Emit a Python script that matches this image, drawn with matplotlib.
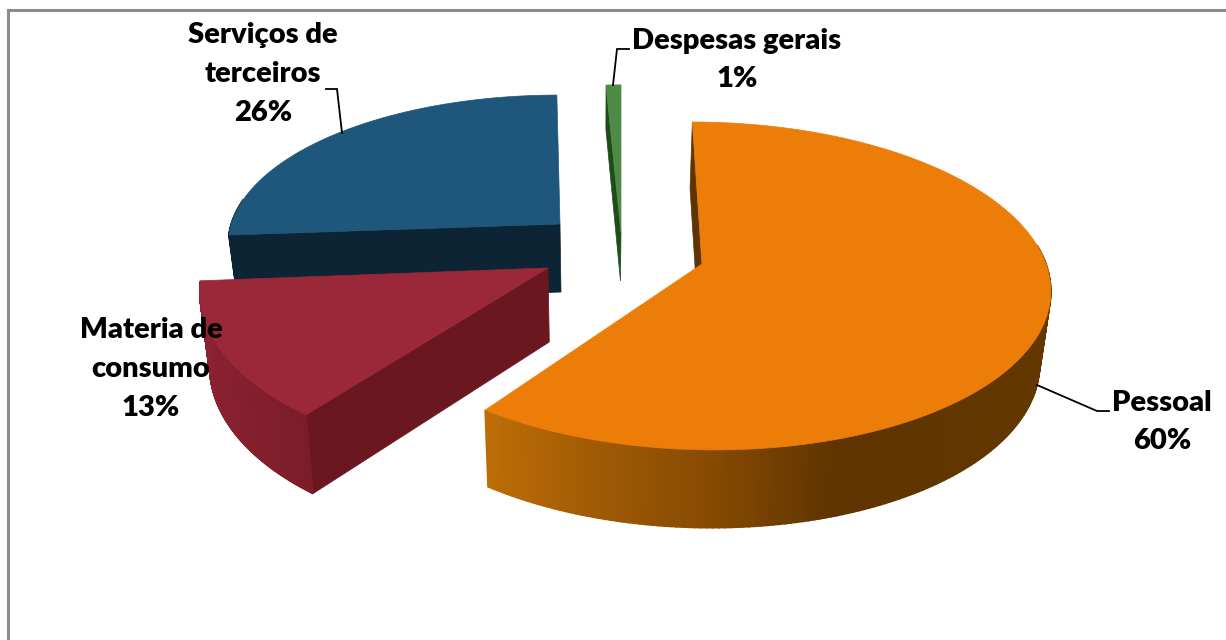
import numpy as np
import matplotlib
matplotlib.use("Agg")
import matplotlib.pyplot as plt
from matplotlib.colors import to_rgb
from matplotlib.patches import Polygon

labels = ["Pessoal", "Materia de\nconsumo", "Serviços de\nterceiros", "Despesas gerais"]
values = [60, 13, 26, 1]

# Per-slice projection styling (pixel geometry)
style = [
    dict(cx=702, cy=264, rx=344, ry=161, shear=.068, tilt=0, depth=72, top="#EC7D08", face="#5F3400",
         wall=[(484, "#BF6E07"), (600, "#A05A04"), (720, "#854A02"), (840, "#5F3400"), (1050, "#643700")]),
    dict(cx=548, cy=268, rx=342, ry=168, shear=-.11, tilt=.025, depth=74, top="#9B2838", face="#6A1720",
         wall=[(200, "#8A2230"), (312, "#7B1C29")]),
    dict(cx=560, cy=224, rx=326, ry=146, shear=-.116, tilt=.023, depth=68, top="#1E567C", face="#0C2433",
         wall=[(230, "#0C2433"), (560, "#0C2433")]),
    dict(cx=621, cy=233, rx=270, ry=168, shear=0, tilt=0, depth=48, top="#4F8A46", face="#1F4D1A",
         wall=[(600, "#1F4D1A"), (630, "#1F4D1A")]),
]
PERSP, CONV, VPX, DEPTHQ = .134, .025, 600, .08
text_xy = [(1162, 422), (151, 369), (263, 74), (737, 60)]
leaders = [[(1037, 385), (1097, 411), (1109, 411)], None,
           [(326, 89), (337, 89), (342, 133)], [(629, 49), (617, 49), (613, 85)]]


def project(s, theta):
    theta = np.asarray(theta, float)
    w = 1 + PERSP * np.cos(theta)
    u = s["rx"] * np.sin(theta) / w
    v = -s["ry"] * np.cos(theta) / w
    return s["cx"] + u + s["shear"] * v, s["cy"] + v + s["tilt"] * u


def drop(s, x, y, theta):
    d = s["depth"] * (1 - DEPTHQ * np.cos(theta))
    return x + CONV * (VPX - x), y + d


def ramp(stops, x):
    xs = [a for a, _ in stops]
    cols = np.array([to_rgb(c) for _, c in stops])
    return np.column_stack([np.interp(x, xs, cols[:, i]) for i in range(3)])


fig = plt.figure(figsize=(12.26, 6.40), dpi=100)
ax = fig.add_axes([0, 0, 1, 1])
ax.set_xlim(0, 1226)
ax.set_ylim(640, 0)
ax.axis("off")

# chart frame: left and top edges only reach the image border
ax.plot([8, 8, 1226], [640, 9.5, 9.5], color="#8C8C8C", lw=2.2, zorder=1, solid_joinstyle="miter")

fractions = np.array(values) / sum(values)
ends = np.cumsum(fractions) * 2 * np.pi
starts = ends - fractions * 2 * np.pi
order = [2, 3, 0, 1]  # painter's order

for z, i in enumerate(order):
    s = style[i]
    base = 10 + z * 3
    th = np.linspace(starts[i], ends[i], 240)
    x, y = project(s, th)
    # start radial face (visible for every slice here)
    ax_pts = [(x[0], y[0]), (s["cx"], s["cy"])]
    lx = [drop(s, a, b, t) for (a, b), t in zip(ax_pts, [th[0], np.pi / 2])]
    ax.add_patch(Polygon([ax_pts[0], ax_pts[1], lx[1], lx[0]], closed=True, fc=s["face"], ec=s["face"], lw=.5, zorder=base))
    # outer wall strips
    lowx, lowy = drop(s, x, y, th)
    cols = ramp(s["wall"], x)
    for k in range(len(th) - 1):
        if np.cos(th[k]) < .12:
            ax.add_patch(Polygon([(x[k], y[k]), (x[k + 1], y[k + 1]), (lowx[k + 1], lowy[k + 1]), (lowx[k], lowy[k])],
                                 closed=True, fc=cols[k], ec=cols[k], lw=1.2, zorder=base + 1))
    # top face
    ax.add_patch(Polygon(np.column_stack([np.r_[s["cx"], x], np.r_[s["cy"], y]]), closed=True,
                         fc=s["top"], ec=s["top"], lw=.5, zorder=base + 2))

for i, lab in enumerate(labels):
    ax.text(*text_xy[i], f"{lab}\n{values[i]}%", ha="center", va="center", family="Lato", weight=800,
            fontsize=21, color="black", linespacing=1.6, zorder=40)
    if leaders[i]:
        px, py = zip(*leaders[i])
        ax.plot(px, py, color="black", lw=1.3, zorder=39, solid_joinstyle="miter")

fig.savefig("out.png", dpi=100)
